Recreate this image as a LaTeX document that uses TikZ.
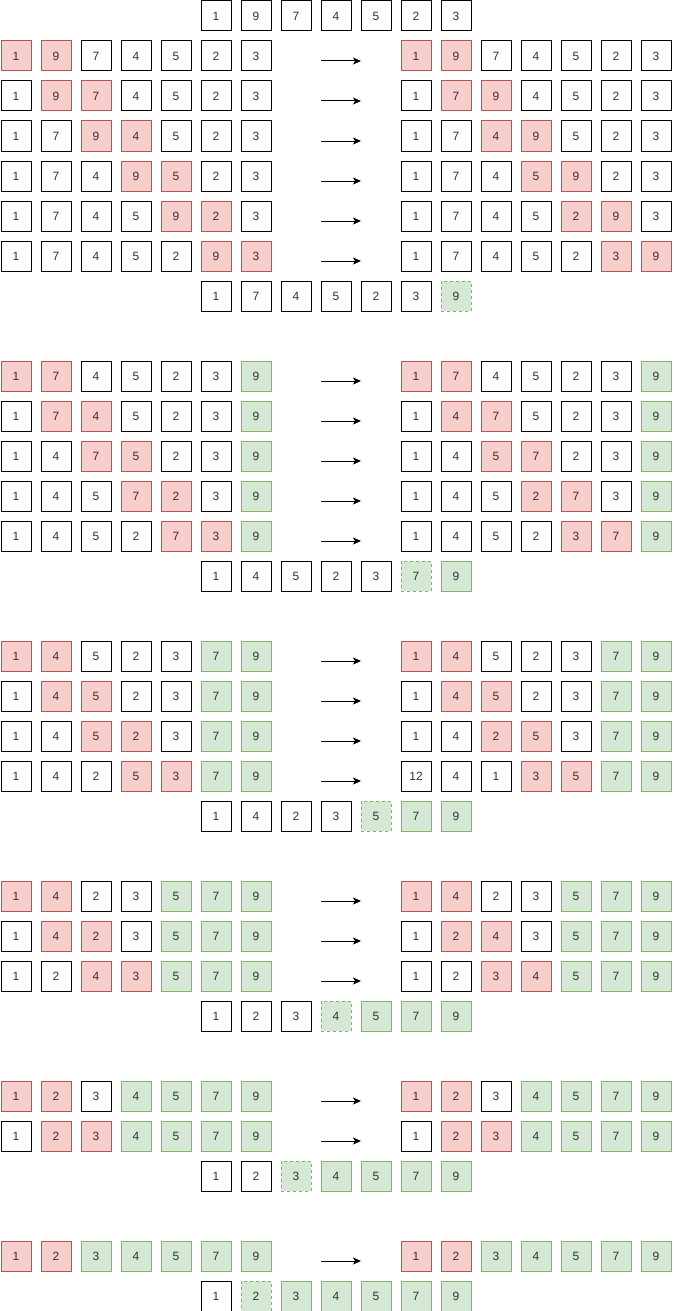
\documentclass[tikz,border=0pt]{standalone}
\usepackage{fontspec}
\setmainfont{Liberation Sans}
\usepackage{tikz}
\usetikzlibrary{arrows.meta}
\definecolor{swapfill}{HTML}{F8CECC}
\definecolor{swapline}{HTML}{B85450}
\definecolor{donefill}{HTML}{D5E8D4}
\definecolor{doneline}{HTML}{82B366}
\tikzset{cell/.style={rectangle,draw,line width=1pt,minimum size=30pt,inner sep=0pt,font=\fontsize{12}{14}\selectfont,text=black!80},pl/.style={fill=white},rd/.style={fill=swapfill,draw=swapline},gn/.style={fill=donefill,draw=doneline},gnd/.style={gn,dash pattern=on 3pt off 3pt},pass/.style={-{Stealth[length=8pt,width=7pt,inset=2pt]},line width=1pt}}
\newcommand\cellrow[4]{\foreach \v/\s [count=\i] in {#4} \node[cell,\s] (#1-\i) at ({#2+40*(\i-1)},#3) {\v};}
\newcommand\passrow[4]{%
  \cellrow{l#1}{16}{#2}{#3}
  \cellrow{r#1}{416}{#2}{#4}
  \coordinate (s#1) at (321,{#2+5});
  \coordinate (e#1) at (361,{#2+5});
  \draw[pass] (s#1) -- (e#1);}

\begin{document}
\begin{tikzpicture}[x=1pt,y=-1pt]
\useasboundingbox (0,0) rectangle (674,1311);
% pass 1
\cellrow{m0}{216}{16}{1/pl,9/pl,7/pl,4/pl,5/pl,2/pl,3/pl}
\passrow{1}{56}{1/rd,9/rd,7/pl,4/pl,5/pl,2/pl,3/pl}{1/rd,9/rd,7/pl,4/pl,5/pl,2/pl,3/pl}
\passrow{2}{96}{1/pl,9/rd,7/rd,4/pl,5/pl,2/pl,3/pl}{1/pl,7/rd,9/rd,4/pl,5/pl,2/pl,3/pl}
\passrow{3}{136}{1/pl,7/pl,9/rd,4/rd,5/pl,2/pl,3/pl}{1/pl,7/pl,4/rd,9/rd,5/pl,2/pl,3/pl}
\passrow{4}{176}{1/pl,7/pl,4/pl,9/rd,5/rd,2/pl,3/pl}{1/pl,7/pl,4/pl,5/rd,9/rd,2/pl,3/pl}
\passrow{5}{216}{1/pl,7/pl,4/pl,5/pl,9/rd,2/rd,3/pl}{1/pl,7/pl,4/pl,5/pl,2/rd,9/rd,3/pl}
\passrow{6}{256}{1/pl,7/pl,4/pl,5/pl,2/pl,9/rd,3/rd}{1/pl,7/pl,4/pl,5/pl,2/pl,3/rd,9/rd}
\cellrow{m1}{216}{296}{1/pl,7/pl,4/pl,5/pl,2/pl,3/pl,9/gnd}
% pass 2
\passrow{7}{376}{1/rd,7/rd,4/pl,5/pl,2/pl,3/pl,9/gn}{1/rd,7/rd,4/pl,5/pl,2/pl,3/pl,9/gn}
\passrow{8}{416}{1/pl,7/rd,4/rd,5/pl,2/pl,3/pl,9/gn}{1/pl,4/rd,7/rd,5/pl,2/pl,3/pl,9/gn}
\passrow{9}{456}{1/pl,4/pl,7/rd,5/rd,2/pl,3/pl,9/gn}{1/pl,4/pl,5/rd,7/rd,2/pl,3/pl,9/gn}
\passrow{10}{496}{1/pl,4/pl,5/pl,7/rd,2/rd,3/pl,9/gn}{1/pl,4/pl,5/pl,2/rd,7/rd,3/pl,9/gn}
\passrow{11}{536}{1/pl,4/pl,5/pl,2/pl,7/rd,3/rd,9/gn}{1/pl,4/pl,5/pl,2/pl,3/rd,7/rd,9/gn}
\cellrow{m2}{216}{576}{1/pl,4/pl,5/pl,2/pl,3/pl,7/gnd,9/gn}
% pass 3
\passrow{12}{656}{1/rd,4/rd,5/pl,2/pl,3/pl,7/gn,9/gn}{1/rd,4/rd,5/pl,2/pl,3/pl,7/gn,9/gn}
\passrow{13}{696}{1/pl,4/rd,5/rd,2/pl,3/pl,7/gn,9/gn}{1/pl,4/rd,5/rd,2/pl,3/pl,7/gn,9/gn}
\passrow{14}{736}{1/pl,4/pl,5/rd,2/rd,3/pl,7/gn,9/gn}{1/pl,4/pl,2/rd,5/rd,3/pl,7/gn,9/gn}
\passrow{15}{776}{1/pl,4/pl,2/pl,5/rd,3/rd,7/gn,9/gn}{12/pl,4/pl,1/pl,3/rd,5/rd,7/gn,9/gn}
\cellrow{m3}{216}{816}{1/pl,4/pl,2/pl,3/pl,5/gnd,7/gn,9/gn}
% pass 4
\passrow{16}{896}{1/rd,4/rd,2/pl,3/pl,5/gn,7/gn,9/gn}{1/rd,4/rd,2/pl,3/pl,5/gn,7/gn,9/gn}
\passrow{17}{936}{1/pl,4/rd,2/rd,3/pl,5/gn,7/gn,9/gn}{1/pl,2/rd,4/rd,3/pl,5/gn,7/gn,9/gn}
\passrow{18}{976}{1/pl,2/pl,4/rd,3/rd,5/gn,7/gn,9/gn}{1/pl,2/pl,3/rd,4/rd,5/gn,7/gn,9/gn}
\cellrow{m4}{216}{1016}{1/pl,2/pl,3/pl,4/gnd,5/gn,7/gn,9/gn}
% pass 5
\passrow{19}{1096}{1/rd,2/rd,3/pl,4/gn,5/gn,7/gn,9/gn}{1/rd,2/rd,3/pl,4/gn,5/gn,7/gn,9/gn}
\passrow{20}{1136}{1/pl,2/rd,3/rd,4/gn,5/gn,7/gn,9/gn}{1/pl,2/rd,3/rd,4/gn,5/gn,7/gn,9/gn}
\cellrow{m5}{216}{1176}{1/pl,2/pl,3/gnd,4/gn,5/gn,7/gn,9/gn}
% pass 6
\passrow{21}{1256}{1/rd,2/rd,3/gn,4/gn,5/gn,7/gn,9/gn}{1/rd,2/rd,3/gn,4/gn,5/gn,7/gn,9/gn}
\cellrow{m6}{216}{1296}{1/pl,2/gnd,3/gn,4/gn,5/gn,7/gn,9/gn}
\end{tikzpicture}
\end{document}
